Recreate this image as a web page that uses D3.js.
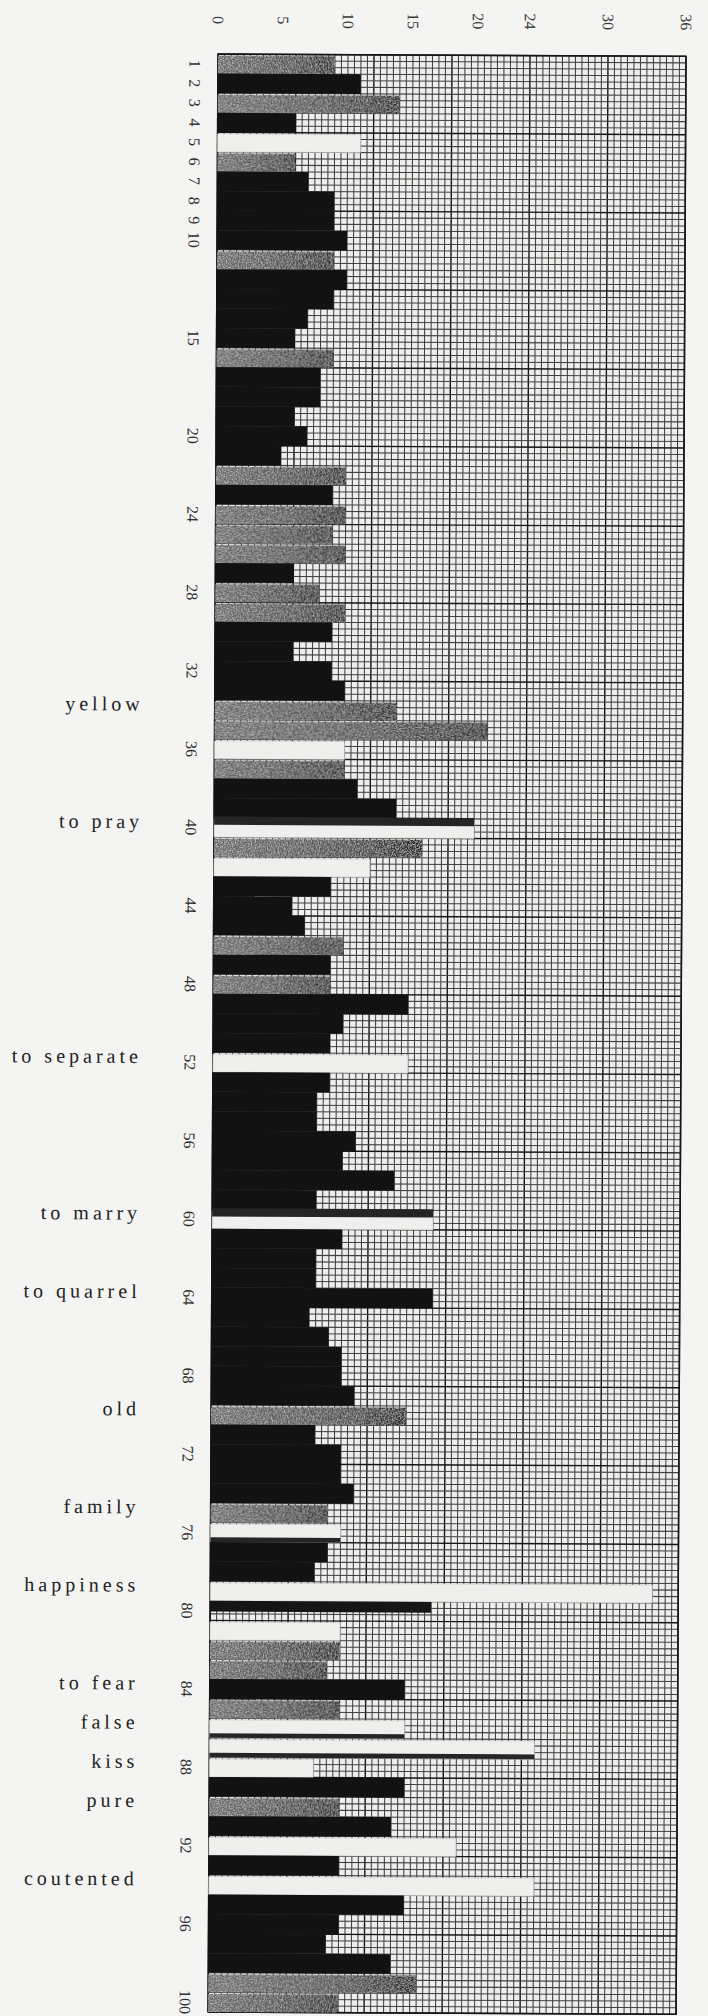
<!DOCTYPE html>
<html><head><meta charset="utf-8">
<script src="https://cdn.jsdelivr.net/npm/d3@7"></script>
<style>body{margin:0;background:#f4f4f2}svg{display:block}</style>
</head><body>
<svg id="c" width="708" height="2016"></svg>
<script>
// ---- data ----
const rows = d3.range(1, 101);
const values = [
  9,11,14,6,11,6,7,9,9,10,
  9,10,9,7,6,9,8,8,6,7,
  5,10,9,10,9,10,6,8,10,9,
  6,9,10,14,21,10,10,11,14,20,
  16,12,9,6,7,10,9,9,15,10,
  9,15,9,8,8,11,10,14,8,17,
  10,8,8,17,7.5,9,10,10,11,15,
  8,10,10,11,9,10,9,8,34,17,
  10,10,9,15,10,15,25,8,15,10,
  14,19,10,25,15,10,9,14,16,10
];
// B black, G grey, W white, T white with dark strip above, U white with dark strip below, S thin black
const shades = [
  "G","B","G","B","W","G","B","B","B","B",
  "G","B","B","B","B","G","B","B","B","B",
  "B","G","B","G","G","G","B","G","G","B",
  "B","B","B","G","G","W","G","B","B","T",
  "G","W","B","B","B","G","B","G","B","B",
  "B","W","B","B","B","B","B","B","B","T",
  "B","B","B","B","B","B","B","B","B","G",
  "B","B","B","B","G","U","B","B","W","S",
  "W","G","G","B","G","U","U","W","B","G",
  "B","W","B","W","B","B","B","B","G","G"
];
const rowTicks = [1,2,3,4,5,6,7,8,9,10,15,20,24,28,32,36,40,44,48,52,56,60,64,68,72,76,80,84,88,92,96,100];
const valueTicks = [0,5,10,15,20,24,30,36];
const words = ["yellow","to pray","to separate","to marry","to quarrel","old","family","happiness","to fear","false","kiss","pure","coutented"];
const wordRows = [34,40,52,60,64,70,75,79,84,86,88,90,94];

// ---- layout ----
const plotLeft = 218, plotTop = 54, W = 468, H = 1958;
const svg = d3.select("#c");
const x = d3.scaleLinear().domain([0, 36]).range([0, W]);
const y = d3.scaleBand().domain(rows).range([0, H]).padding(0);
const step = y.step();

const defs = svg.append("defs");
const gr = defs.append("linearGradient").attr("id","gg");
gr.append("stop").attr("offset","0%").attr("stop-color","#6c6c6c");
gr.append("stop").attr("offset","60%").attr("stop-color","#4e4e4e");
gr.append("stop").attr("offset","100%").attr("stop-color","#262626");
const f = defs.append("filter").attr("id","grain").attr("x",0).attr("y",0).attr("width","100%").attr("height","100%");
f.append("feTurbulence").attr("type","fractalNoise").attr("baseFrequency","0.75").attr("numOctaves",2).attr("seed",4).attr("result","n");
f.append("feColorMatrix").attr("in","n").attr("type","matrix")
  .attr("values","0 0 0 0 1  0 0 0 0 1  0 0 0 0 1  1.1 0 0 0 -0.45").attr("result","w");
f.append("feComposite").attr("in","w").attr("in2","SourceGraphic").attr("operator","in").attr("result","wm");
const fm = f.append("feMerge");
fm.append("feMergeNode").attr("in","SourceGraphic");
fm.append("feMergeNode").attr("in","wm");

const g = svg.append("g").attr("transform", `translate(${plotLeft},${plotTop}) rotate(0.29)`);

// grid
const grid = g.append("g");
grid.append("rect").attr("width", W).attr("height", H).attr("fill", "#eeeeec");
const vLines = d3.range(0, 72.5, 1).map(k => k / 2);
grid.selectAll("line.v").data(vLines).join("line").attr("class","v")
  .attr("x1", d => x(d)).attr("x2", d => x(d)).attr("y1", 0).attr("y2", H)
  .attr("stroke", d => d % 6 === 0 ? "#151515" : "#404040")
  .attr("stroke-width", d => d % 6 === 0 ? 1.4 : 1.05);
const hLines = d3.range(0, rows.length * 3 + 1);
grid.selectAll("line.h").data(hLines).join("line").attr("class","h")
  .attr("x1", 0).attr("x2", W).attr("y1", d => d * step / 3).attr("y2", d => d * step / 3)
  .attr("stroke", d => d % 12 === 0 ? "#151515" : "#404040")
  .attr("stroke-width", d => d % 12 === 0 ? 1.4 : 1.05);
grid.append("rect").attr("width", W).attr("height", H).attr("fill", "none")
  .attr("stroke", "#151515").attr("stroke-width", 1.5);

// bars
const data = rows.map((r, i) => ({ r, v: values[i], s: shades[i] }));
const bars = g.append("g");
data.forEach(d => {
  const y0 = y(d.r), w = x(d.v);
  if (d.s === "B") {
    bars.append("rect").attr("x", 0).attr("y", y0).attr("width", w).attr("height", step).attr("fill", "#121212");
  } else if (d.s === "G") {
    bars.append("rect").attr("x", 0).attr("y", y0 + 1.6).attr("width", w).attr("height", step - 1.6)
      .attr("fill", "url(#gg)").attr("filter", "url(#grain)");
  } else if (d.s === "S") {
    bars.append("rect").attr("x", 0).attr("y", y0).attr("width", w).attr("height", step * 0.55).attr("fill", "#151515");
  } else {
    bars.append("rect").attr("x", 0).attr("y", y0 + 1.6).attr("width", w).attr("height", step - 1.6)
      .attr("fill", "#efefed").attr("stroke", "#c4c4c2").attr("stroke-width", 0.6);
    if (d.s === "T") {
      bars.append("rect").attr("x", 0).attr("y", y0 - 1).attr("width", w).attr("height", step * 0.42).attr("fill", "#252525");
    }
    if (d.s === "U") {
      bars.append("rect").attr("x", 0).attr("y", y0 + step * 0.76).attr("width", w).attr("height", step * 0.24).attr("fill", "#252525");
    }
  }
});

// top value labels (rotated)
g.append("g").selectAll("text").data(valueTicks).join("text")
  .attr("transform", d => `translate(${x(d)},${-34}) rotate(90)`)
  .attr("text-anchor", "middle").attr("dominant-baseline", "central")
  .attr("font-family", "Liberation Serif, DejaVu Serif, serif").attr("font-size", 16).attr("fill", "#3a3a3a")
  .text(d => d);

// row number labels (rotated)
g.append("g").selectAll("text").data(rowTicks).join("text")
  .attr("transform", d => `translate(${-23},${y(d) + step / 2}) rotate(90)`)
  .attr("text-anchor", "middle").attr("dominant-baseline", "central")
  .attr("font-family", "Liberation Serif, DejaVu Serif, serif").attr("font-size", 16).attr("fill", "#2e2e2e")
  .text(d => d);

// word labels
g.append("g").selectAll("text").data(words).join("text")
  .attr("x", -71).attr("y", (d, i) => y(wordRows[i]) + step / 2 + 1)
  .attr("text-anchor", "end")
  .attr("font-family", "Liberation Serif, DejaVu Serif, serif").attr("font-size", 20)
  .attr("letter-spacing", "4px").attr("fill", "#222")
  .text(d => d);
</script>
</body></html>
